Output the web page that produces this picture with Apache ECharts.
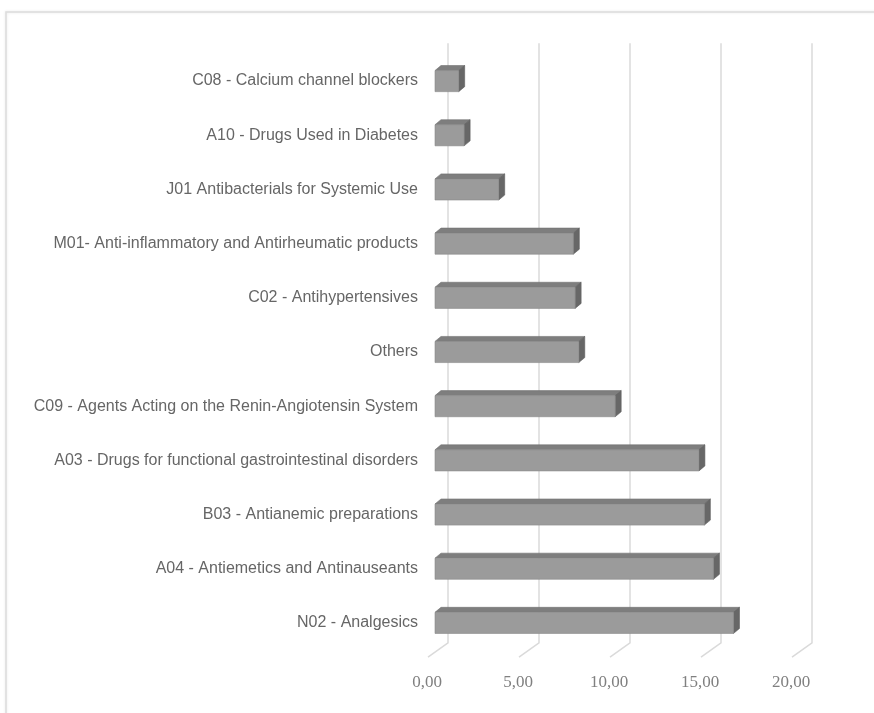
<!DOCTYPE html>
<html>
<head>
<meta charset="utf-8">
<script src="https://cdn.jsdelivr.net/npm/echarts@6/dist/echarts.min.js"></script>
<style>
  html, body { margin: 0; padding: 0; background: #ffffff; }
  #chart { width: 874px; height: 713px; }
</style>
</head>
<body>
<div id="chart"></div>
<script>
// ATC groups, listed top to bottom
const categories = [
  'C08 - Calcium channel blockers',
  'A10 - Drugs Used in Diabetes',
  'J01 Antibacterials for Systemic Use',
  'M01- Anti-inflammatory and Antirheumatic products',
  'C02 - Antihypertensives',
  'Others',
  'C09 - Agents Acting on the Renin-Angiotensin System',
  'A03 - Drugs for functional gastrointestinal disorders',
  'B03 - Antianemic preparations',
  'A04 - Antiemetics and Antinauseants',
  'N02 - Analgesics'
];
const values = [1.3, 1.6, 3.5, 7.6, 7.7, 7.9, 9.9, 14.5, 14.8, 15.3, 16.4];
const tickValues = [0, 5, 10, 15, 20];

const chart = echarts.init(document.getElementById('chart'), null, { renderer: 'canvas' });

// depth offsets for the pseudo-3D look
const BAR_DX = 6, BAR_DY = -5;      // bar top/side depth
const WALL_DX = 13;                 // back wall shift from bar front plane
const FLOOR_DX = -7;                // floor front edge shift

function renderBar(params, api) {
  const idx = api.value(1);
  const end = api.coord([api.value(0), idx]);
  const start = api.coord([0, idx]);
  const band = api.size([0, 1])[1];
  const h = band * 0.39;
  const x0 = start[0], x1 = end[0];
  const yT = end[1] - h / 2, yB = end[1] + h / 2;
  return {
    type: 'group',
    children: [
      {
        type: 'polygon',
        shape: { points: [[x0, yT], [x1, yT], [x1 + BAR_DX, yT + BAR_DY], [x0 + BAR_DX, yT + BAR_DY]] },
        style: { fill: '#7e7e7e', stroke: '#727272', lineWidth: 0.6 }
      },
      {
        type: 'polygon',
        shape: { points: [[x1, yT], [x1 + BAR_DX, yT + BAR_DY], [x1 + BAR_DX, yB + BAR_DY], [x1, yB]] },
        style: { fill: '#676767', stroke: '#5e5e5e', lineWidth: 0.6 }
      },
      {
        type: 'rect',
        shape: { x: x0, y: yT, width: x1 - x0, height: h },
        style: { fill: '#9b9b9b', stroke: '#8a8a8a', lineWidth: 0.6 }
      }
    ]
  };
}

function renderGridLine(params, api) {
  const v = api.value(0);
  const top = api.coord([v, 0]);
  const bottom = api.coord([v, categories.length - 1]);
  const band = api.size([0, 1])[1];
  const xb = top[0] + WALL_DX;
  const yTop = top[1] - band * 0.7;
  const yWall = bottom[1] + band * 0.37;
  const yFloor = bottom[1] + band * 0.63;
  return {
    type: 'polyline',
    shape: { points: [[xb, yTop], [xb, yWall], [top[0] + FLOOR_DX, yFloor]] },
    style: { stroke: '#dadada', lineWidth: 1.5, fill: null }
  };
}

const option = {
  backgroundColor: '#ffffff',
  animation: false,
  graphic: [{
    type: 'rect',
    shape: { x: 6, y: 12, width: 900, height: 740 },
    style: { fill: null, stroke: '#dcdcdc', lineWidth: 1.5, shadowBlur: 3, shadowColor: 'rgba(0,0,0,0.10)' },
    z: -10
  }],
  grid: { left: 435, top: 54, width: 364, height: 596 },
  xAxis: {
    type: 'value',
    min: 0, max: 20, interval: 5,
    axisLine: { show: false },
    axisTick: { show: false },
    splitLine: { show: false },
    axisLabel: {
      margin: 24,
      padding: [0, 16, 0, 0],
      fontFamily: 'Liberation Serif',
      fontSize: 17,
      color: '#808080',
      formatter: v => v.toFixed(2).replace('.', ',')
    }
  },
  yAxis: {
    type: 'category',
    inverse: true,
    data: categories,
    axisLine: { show: false },
    axisTick: { show: false },
    splitLine: { show: false },
    axisLabel: {
      margin: 17,
      fontFamily: 'Liberation Sans',
      fontSize: 16,
      color: '#666666'
    }
  },
  series: [
    {
      type: 'custom',
      renderItem: renderGridLine,
      data: tickValues.map(v => [v]),
      encode: { x: 0 },
      silent: true,
      z: 1
    },
    {
      type: 'custom',
      renderItem: renderBar,
      data: values.map((v, i) => [v, i]),
      encode: { x: 0, y: 1 },
      z: 2
    }
  ]
};

chart.setOption(option);
</script>
</body>
</html>
